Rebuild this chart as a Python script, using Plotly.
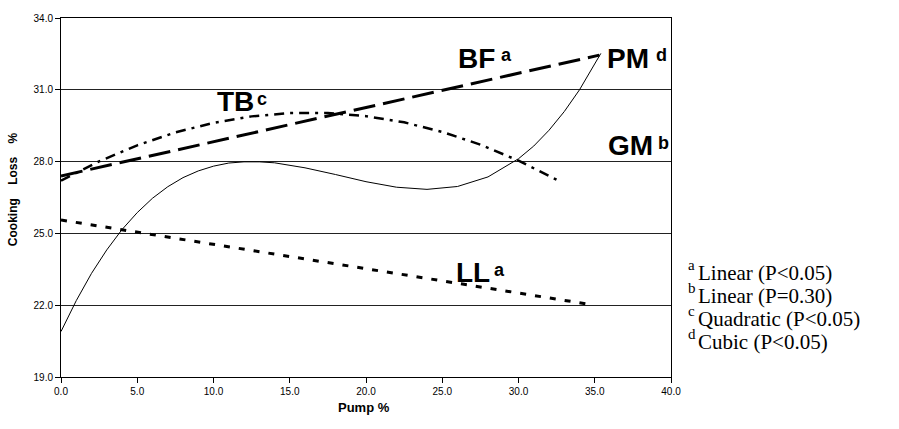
import plotly.graph_objects as go

# ---- data ----
bf_pump = [0.0, 35.3]
bf_loss = [27.40, 32.45]

ll_pump = [0.0, 34.5]
ll_loss = [25.56, 22.05]

tb_pump = [0.0, 2.5, 5.0, 7.5, 10.0, 12.5, 15.0, 17.5, 20.0, 22.5, 25.0, 27.5, 30.0, 32.5]
tb_loss = [27.20, 28.01, 28.68, 29.22, 29.62, 29.89, 30.03, 30.03, 29.90, 29.64, 29.24, 28.71, 28.04, 27.24]

pm_pump = [0, 1, 2, 3, 4, 5, 6, 7, 8, 9, 10, 11, 12, 13, 14, 16, 18, 20, 22, 24, 26, 28, 30, 31, 32, 33, 34, 35, 35.4]
pm_loss = [20.90, 22.19, 23.33, 24.31, 25.16, 25.87, 26.47, 26.95, 27.33, 27.61, 27.81, 27.94, 27.99, 27.99,
           27.95, 27.74, 27.46, 27.16, 26.93, 26.84, 26.96, 27.36, 28.12, 28.65, 29.31, 30.09, 31.00, 32.06, 32.52]

x_ticks = [0, 5, 10, 15, 20, 25, 30, 35, 40]
y_ticks = [19, 22, 25, 28, 31, 34]

curve_labels = [("BF", "a"), ("PM", "d"), ("GM", "b"), ("TB", "c"), ("LL", "a")]
note_marks = ["a", "b", "c", "d"]
note_texts = ["Linear (P&lt;0.05)", "Linear (P=0.30)", "Quadratic (P&lt;0.05)", "Cubic (P&lt;0.05)"]

# ---- figure ----
fig = go.Figure()
fig.add_trace(go.Scatter(x=pm_pump, y=pm_loss, mode="lines", line=dict(color="black", width=1)))
fig.add_trace(go.Scatter(x=tb_pump, y=tb_loss, mode="lines",
                         line=dict(color="black", width=2.5, dash="10px,6px,3px,6px")))
fig.add_trace(go.Scatter(x=bf_pump, y=bf_loss, mode="lines",
                         line=dict(color="black", width=3, dash="22px,8px")))
fig.add_trace(go.Scatter(x=ll_pump, y=ll_loss, mode="lines",
                         line=dict(color="black", width=3, dash="6px,9px")))

# plot area in screen pixels
L, T = 61, 12
PW, PH = 610, 365
W, H = 899, 429

def px_x(p):
    return (p - L) / PW * 40.0
def px_y(p):
    return 34.0 - (p - T) / PH * 15.0
def paper_x(p):
    return (p - L) / PW
def paper_y(p):
    return (T + PH - p) / PH

big = dict(family="Liberation Sans, Arial, sans-serif", size=28, color="black")
small = dict(family="Liberation Sans, Arial, sans-serif", size=18, color="black")
# (main centre x px, main centre y px, sup left px, sup centre y px)
lab_pos = [(476, 53, 500, 50), (628, 53, 655, 50), (630, 142, 657, 139),
           (235.5, 97, 256, 94), (472.5, 271, 493, 268)]
ann = []
for (name, sup), (mx, my, sx, sy) in zip(curve_labels, lab_pos):
    ann.append(dict(x=px_x(mx), y=px_y(my), xref="x", yref="y", text="<b>%s</b>" % name,
                    showarrow=False, xanchor="center", yanchor="middle", font=big, borderpad=0))
    ann.append(dict(x=px_x(sx), y=px_y(sy), xref="x", yref="y", text="<b>%s</b>" % sup,
                    showarrow=False, xanchor="left", yanchor="middle", font=small, borderpad=0))

serif = dict(family="Liberation Serif, Times New Roman, serif", size=21, color="black")
serif_s = dict(family="Liberation Serif, Times New Roman, serif", size=15, color="black")
for k, (m, t) in enumerate(zip(note_marks, note_texts)):
    cy = 271 + 23.4 * k
    ann.append(dict(x=paper_x(697), y=paper_y(cy), xref="paper", yref="paper", text=t,
                    showarrow=False, xanchor="left", yanchor="middle", font=serif, borderpad=0))
    ann.append(dict(x=paper_x(687), y=paper_y(cy - 8), xref="paper", yref="paper", text=m,
                    showarrow=False, xanchor="left", yanchor="middle", font=serif_s, borderpad=0))

ann.append(dict(x=paper_x(13), y=paper_y(186), xref="paper", yref="paper",
                text="<b>Cooking&nbsp;&nbsp;&nbsp;&nbsp;Loss&nbsp;&nbsp;&nbsp;&nbsp;%</b>", textangle=-90,
                showarrow=False, xanchor="center", yanchor="middle",
                font=dict(family="Liberation Sans, Arial, sans-serif", size=12, color="black")))
ann.append(dict(x=paper_x(364), y=paper_y(408), xref="paper", yref="paper",
                text="<b>Pump %</b>", showarrow=False, xanchor="center", yanchor="middle",
                font=dict(family="Liberation Sans, Arial, sans-serif", size=13, color="black")))

tick_font = dict(family="Liberation Sans, Arial, sans-serif", size=10, color="black")
fig.update_layout(
    width=W, height=H,
    margin=dict(l=L, r=W - L - PW, t=T, b=H - T - PH, pad=0),
    paper_bgcolor="white", plot_bgcolor="white",
    showlegend=False,
    annotations=ann,
    xaxis=dict(range=[0, 40], tickvals=x_ticks, ticktext=["%.1f" % v for v in x_ticks],
               showgrid=False, zeroline=False, showline=True, linecolor="black", linewidth=1,
               mirror=True, ticks="outside", ticklen=5, tickcolor="black", tickfont=tick_font),
    yaxis=dict(range=[19, 34], tickvals=y_ticks, ticktext=["%.1f" % v for v in y_ticks],
               showgrid=True, gridcolor="#222222", gridwidth=1, zeroline=False,
               showline=True, linecolor="black", linewidth=1, mirror=True,
               ticks="outside", ticklen=5, tickcolor="black", tickfont=tick_font),
)
fig.write_html("out.html", config={"displayModeBar": False},
               post_script="document.body.style.margin='0';")
